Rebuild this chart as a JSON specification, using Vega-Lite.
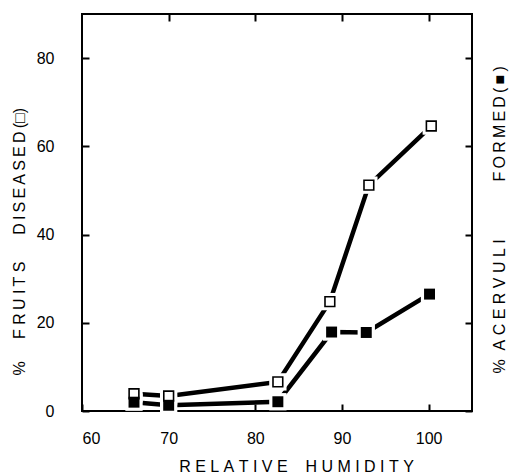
{
  "$schema": "https://vega.github.io/schema/vega-lite/v6.json",
  "width": 390,
  "height": 397,
  "autosize": "none",
  "padding": {"left": 82, "top": 14, "right": 44, "bottom": 62},
  "config": {
    "view": {"stroke": "black", "strokeWidth": 2},
    "font": "Liberation Sans",
    "axis": {
      "grid": false,
      "domain": false,
      "tickColor": "black",
      "tickWidth": 2,
      "tickSize": -7,
      "labelColor": "black",
      "labelFontSize": 16,
      "labelFont": "Liberation Sans",
      "titleColor": "black",
      "titleFont": "Liberation Sans",
      "titleFontSize": 16,
      "titleFontWeight": "normal"
    }
  },
  "data": {
    "values": [
      {"rh": 66, "pct": 3.9, "series": "fruits"},
      {"rh": 70, "pct": 3.4, "series": "fruits"},
      {"rh": 82.6, "pct": 6.6, "series": "fruits"},
      {"rh": 88.6, "pct": 24.8, "series": "fruits"},
      {"rh": 93.1, "pct": 51.2, "series": "fruits"},
      {"rh": 100.3, "pct": 64.6, "series": "fruits"},
      {"rh": 66, "pct": 2.0, "series": "acervuli"},
      {"rh": 70, "pct": 1.3, "series": "acervuli"},
      {"rh": 82.6, "pct": 2.1, "series": "acervuli"},
      {"rh": 88.8, "pct": 17.9, "series": "acervuli"},
      {"rh": 92.8, "pct": 17.8, "series": "acervuli"},
      {"rh": 100.1, "pct": 26.5, "series": "acervuli"}
    ]
  },
  "resolve": {"axis": {"x": "independent", "y": "independent"}},
  "layer": [
    {
      "mark": {"type": "line", "color": "black", "strokeWidth": 4.5},
      "encoding": {
        "x": {"field": "rh", "type": "quantitative", "scale": {"domain": [60, 105], "nice": false, "zero": false},
          "axis": {"orient": "bottom", "values": [60, 70, 80, 90, 100], "labelPadding": 26, "title": "R\u00a0E\u00a0L\u00a0A\u00a0T\u00a0I\u00a0V\u00a0E\u00a0\u00a0\u00a0\u00a0H\u00a0U\u00a0M\u00a0I\u00a0D\u00a0I\u00a0T\u00a0Y", "titlePadding": 12, "titleX": 214, "titleAlign": "center"}},
        "y": {"field": "pct", "type": "quantitative", "scale": {"domain": [0, 90], "nice": false},
          "axis": {"orient": "left", "values": [0, 20, 40, 60, 80], "labelPadding": 35, "title": "%\u00a0\u00a0\u00a0\u00a0\u00a0F\u00a0R\u2009U\u00a0I\u2009T\u00a0S\u00a0\u00a0\u00a0\u00a0\u00a0\u00a0D\u2009I\u2009S\u2009E\u2009A\u2009S\u2009E\u2009D\u2009(\u25a1)", "titlePadding": 9, "titleY": 361, "titleAlign": "left"}},
        "detail": {"field": "series"}
      }
    },
    {
      "mark": {"type": "point", "shape": "square", "filled": true, "color": "white", "size": 300, "opacity": 1},
      "encoding": {
        "x": {"field": "rh", "type": "quantitative", "axis": {"orient": "top", "values": [70, 80, 90, 100], "labels": false, "title": null}},
        "y": {"field": "pct", "type": "quantitative", "axis": {"orient": "right", "values": [0, 20, 40, 60, 80], "labels": false, "title": "%\u00a0\u00a0A\u00a0C\u00a0E\u00a0R\u00a0V\u00a0U\u00a0L\u00a0I\u00a0\u00a0\u00a0\u00a0\u00a0\u00a0\u00a0\u00a0\u00a0\u00a0\u00a0\u00a0\u00a0F\u2009O\u2009R\u2009M\u2009E\u2009D\u2009(\u2009\u25a0\u2009)", "titlePadding": 18, "titleAngle": 270, "titleBaseline": "top", "titleAlign": "left", "titleY": 359}}
      }
    },
    {
      "transform": [{"filter": "datum.series == 'fruits'"}],
      "mark": {"type": "point", "shape": "square", "filled": true, "fill": "white", "stroke": "black", "strokeWidth": 1.6, "size": 95, "opacity": 1},
      "encoding": {
        "x": {"field": "rh", "type": "quantitative", "axis": null},
        "y": {"field": "pct", "type": "quantitative", "axis": null}
      }
    },
    {
      "transform": [{"filter": "datum.series == 'acervuli'"}],
      "mark": {"type": "point", "shape": "square", "filled": true, "color": "black", "size": 120, "opacity": 1},
      "encoding": {
        "x": {"field": "rh", "type": "quantitative", "axis": null},
        "y": {"field": "pct", "type": "quantitative", "axis": null}
      }
    }
  ]
}
